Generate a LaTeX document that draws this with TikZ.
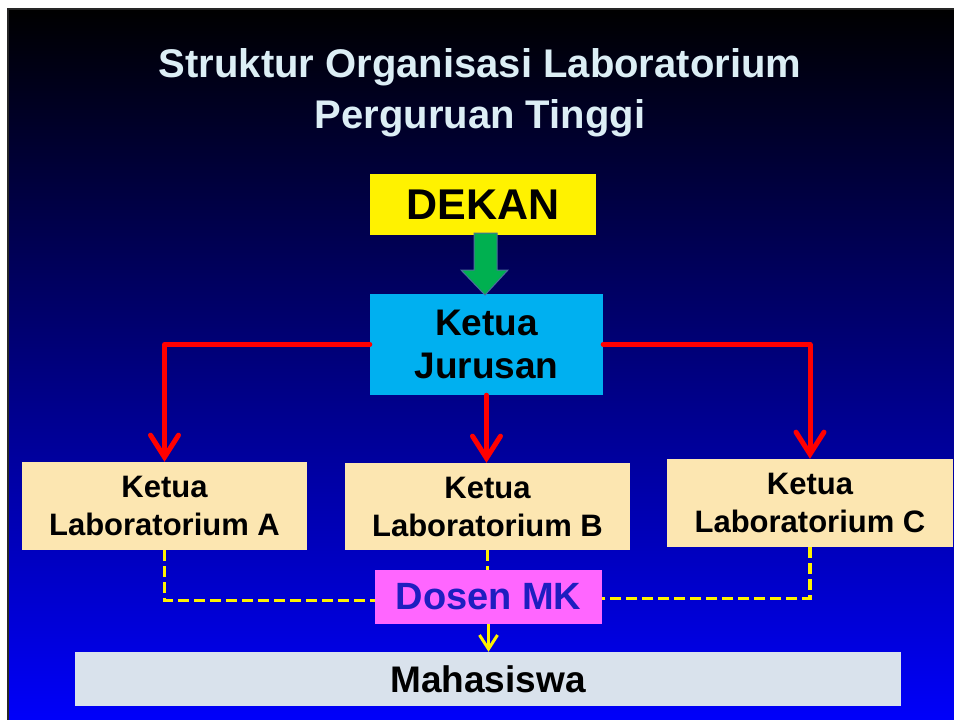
\documentclass[tikz,border=0pt]{standalone}
\usepackage{fontspec}
\setmainfont{Liberation Sans}
\usetikzlibrary{arrows.meta}
\definecolor{titlec}{HTML}{DCEEF5}
\definecolor{labfill}{HTML}{FCE6B1}
\definecolor{jurfill}{HTML}{00B0F0}
\definecolor{mahafill}{HTML}{D9E2EC}
\definecolor{dosenfill}{HTML}{FF66FF}
\definecolor{dosentext}{HTML}{1E1EC0}
\definecolor{greenarrow}{HTML}{00B050}
\definecolor{greenedge}{HTML}{4A6E9A}
\tikzset{
  x=1pt, y=-1pt,
  boxnode/.style={draw=none, inner sep=0pt, align=center, text=black},
  redline/.style={draw=red, line width=5pt, line join=round, line cap=round},
  redtip/.style={-{Straight Barb[length=22pt,width=28pt,line cap=round]}},
  yellowdash/.style={draw=yellow, line width=3.8pt, dash pattern=on 11pt off 5pt},
  yellowline/.style={draw=yellow, line width=3pt, -{Straight Barb[length=14pt,width=18pt]}},
}
\begin{document}
\begin{tikzpicture}
\useasboundingbox (0,0) rectangle (954,720);
\fill[white] (0,0) rectangle (954,720);
\shade[top color=black, bottom color={rgb,255:red,0;green,0;blue,250}] (8,9) rectangle (954,720);
\draw[black!85, line width=2pt] (8,720) -- (8,9) -- (954,9);

% title
\node[text=titlec, font=\fontsize{40}{51}\selectfont\bfseries, align=center, inner sep=0pt] (title) at (480,93) {Struktur Organisasi Laboratorium\\Perguruan Tinggi};

% boxes
\node[boxnode, fill=yellow, minimum width=226pt, minimum height=61pt, font=\fontsize{43}{50}\selectfont\bfseries] (dekan) at (483,204.5) {DEKAN};
\node[boxnode, fill=jurfill, minimum width=233pt, minimum height=101pt, font=\fontsize{37}{43}\selectfont\bfseries] (jur) at (486.5,344.5) {Ketua\\Jurusan};
\node[boxnode, fill=labfill, minimum width=285pt, minimum height=88pt, font=\fontsize{31}{38}\selectfont\bfseries] (labA) at (164.5,506) {Ketua\\Laboratorium A};
\node[boxnode, fill=labfill, minimum width=285pt, minimum height=87pt, font=\fontsize{31}{38}\selectfont\bfseries] (labB) at (487.5,506.5) {Ketua\\Laboratorium B};
\node[boxnode, fill=labfill, minimum width=286pt, minimum height=88pt, font=\fontsize{31}{38}\selectfont\bfseries] (labC) at (810,503) {Ketua\\Laboratorium C};
\node[boxnode, fill=dosenfill, text=dosentext, minimum width=227pt, minimum height=54pt, font=\fontsize{38}{44}\selectfont\bfseries] (dosen) at (488.5,597) {Dosen MK};
\node[boxnode, fill=mahafill, minimum width=826pt, minimum height=54pt, font=\fontsize{37}{44}\selectfont\bfseries] (maha) at (488,679) {Mahasiswa};

% green block arrow
\draw[fill=greenarrow, draw=greenedge, line width=1pt, line join=miter]
  (474,233) -- (497,233) -- (497,270) -- (508,270) -- (485,295) -- (461,270) -- (474,270) -- cycle;

% red connectors
\draw[redline, redtip] (jur.west) -| (labA.north);
\draw[redline, redtip] (jur.east) -| (labC.north);
\draw[redline, redtip] (jur.south) -- (jur.south |- labB.north);

% yellow dashed
\draw[yellowdash] (labA.south) |- ([yshift=-3.5pt]dosen.west);
\draw[yellowdash] (labC.south) |- ([yshift=-1.5pt]dosen.east);
\draw[yellowdash] (labB.south) -- (labB.south |- dosen.north);
\draw[yellowline] (dosen.south) -- (dosen.south |- maha.north);
\end{tikzpicture}
\end{document}
